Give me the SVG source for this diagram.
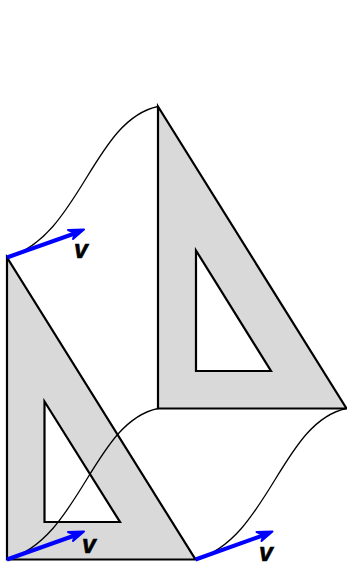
<svg xmlns="http://www.w3.org/2000/svg" width="347" height="566" viewBox="0 0 347 566">
<defs><style>
.t{fill:#d9d9d9;stroke:#000;stroke-width:2.2;stroke-linejoin:miter;fill-rule:evenodd}
.c{fill:none;stroke:#000;stroke-width:1.3}
.v{fill:none;stroke:#0000ff;stroke-width:4}
.h{fill:#0000ff;stroke:#0000ff;stroke-width:2;stroke-linejoin:round}
.l{font-family:"Liberation Sans",Arial,sans-serif;font-weight:700;font-style:italic;font-size:25px;fill:#000;stroke:#000;stroke-width:.6}
</style></defs>
<g id="triangle-back"><path class="t" d="M158 106.500V408.500H346.500ZM196 250.500L271 371H196Z"/></g>
<g id="triangle-front"><path class="t" d="M7 257.500V559.500H195.500ZM44.500 401.500L120 522H44.500Z"/></g>
<g id="connectors">
<path class="c" d="M7 257.500C80 237 93 120 158 106.500"/>
<path class="c" d="M7 559.500C80 539 93 422 158 408.500"/>
<path class="c" d="M195.500 559.500C268.500 539 281.500 422 346.500 408.500"/>
<path class="v" d="M7 257.500L76 233"/><path class="h" d="M84 229.500L68 230L75 233L73 239Z"/>
<path class="v" d="M7 559.500L76 535"/><path class="h" d="M84 531.500L68 532L75 535L73 541Z"/>
<path class="v" d="M195.500 559.500L264 535"/><path class="h" d="M272.500 531.500L256.500 532L263.500 535L261.500 541Z"/>
</g>
<g id="label-1"><text class="l" x="74" y="258">v</text></g>
<g id="label-2"><text class="l" x="82" y="553">v</text></g>
<g id="label-3"><text class="l" x="259" y="561">v</text></g>
</svg>
